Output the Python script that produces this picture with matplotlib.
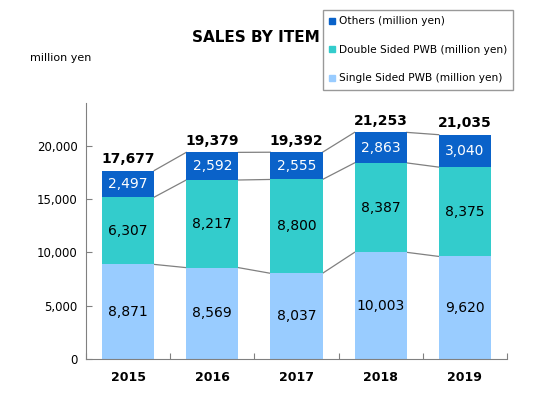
import numpy as np
import matplotlib
matplotlib.use("Agg")
import matplotlib.pyplot as plt
from matplotlib.lines import Line2D

# ── data ───────────────────────────────────────────────────────────────────
years = ["2015", "2016", "2017", "2018", "2019"]
single_sided = [8871, 8569, 8037, 10003, 9620]
double_sided = [6307, 8217, 8800, 8387, 8375]
others = [2497, 2592, 2555, 2863, 3040]
totals = [17677, 19379, 19392, 21253, 21035]

series_names = ["Single Sided PWB (million yen)",
                "Double Sided PWB (million yen)",
                "Others (million yen)"]
series_colors = ["#99CCFF", "#33CCCC", "#0A62C9"]
label_colors = ["black", "black", "white"]

# ── figure ─────────────────────────────────────────────────────────────────
fig = plt.figure(figsize=(5.48, 3.98), dpi=100)
ax = fig.add_axes([0.157, 0.098, 0.768, 0.643])

x = np.arange(len(years))
bar_w = 0.62
bottom = np.zeros(len(years))
levels = []
for vals, col, lcol in zip([single_sided, double_sided, others],
                           series_colors, label_colors):
    vals = np.array(vals, dtype=float)
    ax.bar(x, vals, bar_w, bottom=bottom, color=col, zorder=2)
    for xi, b, v in zip(x, bottom, vals):
        ax.text(xi, b + v / 2, f"{int(v):,}", ha="center", va="center",
                fontsize=10, color=lcol, zorder=3)
    bottom = bottom + vals
    levels.append(bottom.copy())

# connector lines between segment tops
for lev in levels:
    for i in range(len(years) - 1):
        ax.plot([x[i] + bar_w / 2, x[i + 1] - bar_w / 2], [lev[i], lev[i + 1]],
                color="#808080", lw=0.9, zorder=1)

for xi, t in zip(x, totals):
    ax.text(xi, t + 400, f"{t:,}", ha="center", va="bottom",
            fontsize=10, fontweight="bold")

ax.set_xlim(-0.5, len(years) - 0.5)
ax.set_ylim(0, 24000)
ax.set_yticks(np.arange(0, 20001, 5000))
ax.set_yticklabels([f"{v:,}" for v in range(0, 20001, 5000)], fontsize=8.5)
ax.set_xticks(np.arange(-0.5, len(years)), minor=False)
ax.set_xticklabels([])
ax.set_xticks(x, minor=True)
ax.set_xticklabels(years, minor=True, fontsize=9, fontweight="bold")
ax.tick_params(axis="x", which="minor", length=0, pad=9)
ax.tick_params(axis="x", which="major", direction="in", length=4,
               color="#808080")
ax.tick_params(axis="y", direction="in", length=4, color="#808080", pad=6)
for s in ["top", "right"]:
    ax.spines[s].set_visible(False)
for s in ["left", "bottom"]:
    ax.spines[s].set_color("#808080")

fig.text(0.467, 0.905, "SALES BY ITEM", ha="center", va="center",
         fontsize=11, fontweight="bold")
fig.text(0.055, 0.855, "million yen", ha="left", va="center", fontsize=8)

handles = [Line2D([], [], ls="", marker="s", markersize=5,
                  markerfacecolor=c, markeredgecolor=c)
           for c in series_colors[::-1]]
leg = fig.legend(handles, series_names[::-1], loc="upper left",
                 bbox_to_anchor=(0.589, 0.975), fontsize=7.6, frameon=True,
                 fancybox=False, edgecolor="#808080", labelspacing=1.75,
                 handlelength=0.6, handletextpad=0.3, borderpad=0.6,
                 borderaxespad=0)
leg.get_frame().set_linewidth(1.0)

fig.savefig("out.png", dpi=100, facecolor="white")
plt.close(fig)
